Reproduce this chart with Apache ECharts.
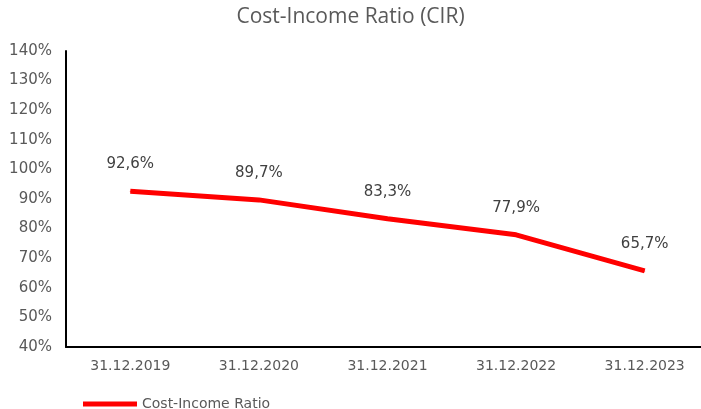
<!DOCTYPE html>
<html>
<head>
<meta charset="utf-8">
<script src="https://cdn.jsdelivr.net/npm/echarts@6/dist/echarts.min.js"></script>
<style>
html, body { margin: 0; padding: 0; background: #fff; }
#chart { width: 701px; height: 409px; }
</style>
</head>
<body>
<div id="chart"></div>
<script>
var categories = ['31.12.2019', '31.12.2020', '31.12.2021', '31.12.2022', '31.12.2023'];
var cirValues = [92.6, 89.7, 83.3, 77.9, 65.7];
var seriesName = 'Cost-Income Ratio';

var myChart = echarts.init(document.getElementById('chart'));

var option = {
    animation: false,
    title: {
        text: 'Cost-Income Ratio (CIR)',
        left: 'center',
        top: 2,
        textStyle: {
            fontFamily: 'Open Sans',
            fontSize: 21,
            fontWeight: 'normal',
            color: '#595959'
        }
    },
    legend: {
        left: 78,
        top: 392,
        itemWidth: 54,
        itemHeight: 5,
        itemGap: 4,
        icon: 'rect',
        textStyle: { fontFamily: 'DejaVu Sans', fontSize: 14, color: '#595959' },
        data: [seriesName]
    },
    // plot runs a bit past the right edge, like the cropped original
    grid: { left: 66, width: 643, top: 51, bottom: 62, outerBoundsMode: 'none', containLabel: false },
    xAxis: {
        type: 'category',
        data: categories,
        axisLine: { lineStyle: { color: '#000', width: 2 } },
        axisTick: { show: false },
        axisLabel: { fontFamily: 'DejaVu Sans', fontSize: 14, color: '#595959', margin: 12 }
    },
    yAxis: {
        type: 'value',
        min: 40,
        max: 140,
        interval: 10,
        splitLine: { show: false },
        axisLine: { show: true, lineStyle: { color: '#000', width: 2 } },
        axisTick: { show: false },
        axisLabel: {
            fontFamily: 'DejaVu Sans', fontSize: 15, color: '#595959', margin: 14,
            formatter: function (v) { return v + '%'; }
        }
    },
    series: [{
        name: seriesName,
        type: 'line',
        data: cirValues,
        symbol: 'circle',
        symbolSize: 1,
        showSymbol: true,
        lineStyle: { color: '#ff0000', width: 5 },
        itemStyle: { color: '#ff0000' },
        label: {
            show: true,
            position: 'top',
            distance: 19,
            fontFamily: 'DejaVu Sans',
            fontSize: 15,
            color: '#404040',
            formatter: function (p) { return p.value.toFixed(1).replace('.', ',') + '%'; }
        }
    }]
};

myChart.setOption(option);
</script>
</body>
</html>
